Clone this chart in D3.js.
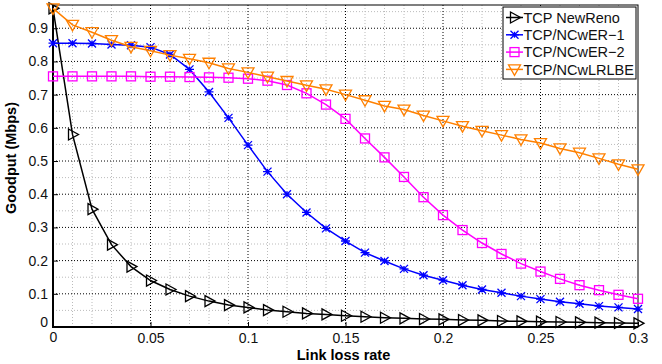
<!DOCTYPE html>
<html>
  <head>
    <meta charset="utf-8" />
    <title>Goodput vs link loss rate</title>
    <script src="https://d3js.org/d3.v7.min.js"></script>
    <style>
      body { margin: 0; background: #fff; }
      text { font-family: "Liberation Sans", Arial, sans-serif; }
    </style>
  </head>
  <body>
    <div id="chart"></div>

    <script>
      // loss rates 0 .. 0.3 step 0.01
      const lossRates = d3.range(31).map(i => +(i * 0.01).toFixed(2));

      const newReno = [0.96, 0.58, 0.355, 0.248, 0.182, 0.14, 0.113, 0.093, 0.078, 0.066,
        0.059, 0.051, 0.046, 0.041, 0.038, 0.034, 0.031, 0.028, 0.026, 0.024,
        0.023, 0.021, 0.02, 0.018, 0.017, 0.016, 0.015, 0.014, 0.013, 0.012, 0.011];
      const ncwer1 = [0.855, 0.855, 0.854, 0.851, 0.849, 0.843, 0.821, 0.776, 0.708, 0.63,
        0.548, 0.468, 0.4, 0.345, 0.297, 0.259, 0.224, 0.199, 0.175, 0.156,
        0.141, 0.126, 0.113, 0.103, 0.093, 0.084, 0.076, 0.07, 0.063, 0.059, 0.054];
      const ncwer2 = [0.755, 0.755, 0.755, 0.755, 0.755, 0.754, 0.754, 0.753, 0.752, 0.751,
        0.748, 0.742, 0.729, 0.704, 0.67, 0.627, 0.568, 0.511, 0.452, 0.391,
        0.337, 0.292, 0.253, 0.22, 0.191, 0.167, 0.145, 0.126, 0.111, 0.097, 0.085];
      const ncwlrlbe = [0.96, 0.91, 0.888, 0.864, 0.844, 0.832, 0.819, 0.808, 0.796, 0.779,
        0.767, 0.754, 0.741, 0.728, 0.716, 0.7, 0.683, 0.666, 0.655, 0.637,
        0.621, 0.605, 0.591, 0.578, 0.565, 0.554, 0.538, 0.525, 0.508, 0.49, 0.475];

      const seriesNames = ["TCP NewReno", "TCP/NCwER\u22121", "TCP/NCwER\u22122", "TCP/NCwLRLBE"];
      const xTicks = [0, 0.05, 0.1, 0.15, 0.2, 0.25, 0.3];
      const yTicks = [0, 0.1, 0.2, 0.3, 0.4, 0.5, 0.6, 0.7, 0.8, 0.9];

      const series = [
        { name: seriesNames[0], values: newReno, color: "#000000", marker: "tri-right" },
        { name: seriesNames[1], values: ncwer1, color: "#0000ff", marker: "star" },
        { name: seriesNames[2], values: ncwer2, color: "#ff00ff", marker: "square" },
        { name: seriesNames[3], values: ncwlrlbe, color: "#ff8000", marker: "tri-down" }
      ];

      const W = 662, H = 364;
      const m = { left: 53, right: 24, top: 5, bottom: 37 };
      const iw = W - m.left - m.right, ih = H - m.top - m.bottom;

      const svg = d3.select("#chart").append("svg").attr("width", W).attr("height", H);
      const g = svg.append("g").attr("transform", `translate(${m.left},${m.top})`);

      const x = d3.scaleLinear().domain([0, 0.3]).range([0, iw]);
      const y = d3.scaleLinear().domain([0, 0.97]).range([ih, 0]);

      // minor grid
      const minorX = d3.range(31).map(i => i * 0.01).filter(v => Math.round(v * 100) % 5 !== 0);
      const minorY = d3.range(0.05, 0.97, 0.1);
      g.append("g").selectAll("line").data(minorX).join("line")
        .attr("x1", d => x(d)).attr("x2", d => x(d)).attr("y1", 0).attr("y2", ih)
        .attr("stroke", "#bbb").attr("stroke-dasharray", "1,2");
      g.append("g").selectAll("line").data(minorY).join("line")
        .attr("x1", 0).attr("x2", iw).attr("y1", d => y(d)).attr("y2", d => y(d))
        .attr("stroke", "#bbb").attr("stroke-dasharray", "1,2");

      // major grid
      g.append("g").selectAll("line").data(xTicks.slice(1, -1)).join("line")
        .attr("x1", d => x(d)).attr("x2", d => x(d)).attr("y1", 0).attr("y2", ih)
        .attr("stroke", "#000").attr("stroke-dasharray", "1,2");
      g.append("g").selectAll("line").data(yTicks.slice(1)).join("line")
        .attr("x1", 0).attr("x2", iw).attr("y1", d => y(d)).attr("y2", d => y(d))
        .attr("stroke", "#000").attr("stroke-dasharray", "1,2");

      // box
      g.append("rect").attr("width", iw).attr("height", ih)
        .attr("fill", "none").attr("stroke", "#000").attr("stroke-width", 1);
      g.append("path").attr("d", `M0,0V${ih}H${iw}`)
        .attr("fill", "none").attr("stroke", "#000").attr("stroke-width", 2);

      // axes
      const xAxis = g.append("g").attr("transform", `translate(0,${ih})`)
        .call(d3.axisBottom(x).tickValues(xTicks).tickSizeInner(-5).tickSizeOuter(0)
          .tickFormat(d => d === 0 ? "0" : d3.format("")(d)));
      const yAxis = g.append("g")
        .call(d3.axisLeft(y).tickValues(yTicks).tickSizeInner(-5).tickSizeOuter(0)
          .tickFormat(d => d === 0 ? "0" : d3.format("")(d)));
      [xAxis, yAxis].forEach(a => {
        a.select(".domain").remove();
        a.selectAll("text").attr("font-size", 14).attr("fill", "#111")
          .attr("font-family", "Liberation Sans, Arial, sans-serif");
      });
      xAxis.selectAll("text").attr("dy", "0.75em").attr("y", 5);
      yAxis.selectAll("text").attr("x", -5);
      yAxis.selectAll(".tick").filter(d => d === 0).select("text").attr("dy", "-0.05em");
      xAxis.selectAll(".tick").filter(d => d === 0).select("text").attr("y", 4);

      // axis titles
      svg.append("text").attr("x", m.left + iw / 2 - 2).attr("y", H - 4)
        .attr("text-anchor", "middle").attr("font-size", 14.5).attr("font-weight", "bold")
        .text("Link loss rate");
      svg.append("text").attr("transform", `translate(16,${m.top + 153}) rotate(-90)`)
        .attr("text-anchor", "middle").attr("font-size", 14.5).attr("font-weight", "bold")
        .text("Goodput (Mbps)");

      function drawMarker(sel, type, color) {
        sel.attr("fill", "none").attr("stroke", color).attr("stroke-width", 1.3);
        if (type === "tri-right") sel.append("path").attr("d", "M-4,-5.5L6,0L-4,5.5Z");
        else if (type === "tri-down") sel.append("path").attr("d", "M-6,-4.5L6,-4.5L0,6Z");
        else if (type === "square") sel.append("rect").attr("x", -4.5).attr("y", -4.5).attr("width", 9).attr("height", 9);
        else if (type === "star") sel.append("path").attr("d", "M-4,-4L4,4M-4,4L4,-4M0,-3V3M-4.5,0H4.5");
      }

      const line = d3.line().x((d, i) => x(lossRates[i])).y(d => y(d));

      series.forEach(s => {
        const sg = g.append("g");
        sg.append("path").datum(s.values).attr("d", line)
          .attr("fill", "none").attr("stroke", s.color).attr("stroke-width", 1.5);
        sg.selectAll("g.mk").data(s.values).join("g").attr("class", "mk")
          .attr("transform", (d, i) => `translate(${x(lossRates[i])},${y(d)})`)
          .each(function () { drawMarker(d3.select(this), s.marker, s.color); });
      });

      // legend
      const lg = svg.append("g").attr("transform", "translate(503,7)");
      lg.append("rect").attr("width", 133).attr("height", 72)
        .attr("fill", "#fff").attr("stroke", "#000").attr("stroke-width", 1);
      series.forEach((s, i) => {
        const row = lg.append("g").attr("transform", `translate(0,${10.5 + i * 17.3})`);
        row.append("line").attr("x1", 3).attr("x2", 20).attr("stroke", s.color).attr("stroke-width", 1.5);
        drawMarker(row.append("g").attr("transform", "translate(11.5,0)"), s.marker, s.color);
        row.append("text").attr("x", 20.5).attr("dy", "0.36em").attr("font-size", 14.5)
          .attr("fill", "#111").text(s.name);
      });
    </script>
  </body>
</html>
